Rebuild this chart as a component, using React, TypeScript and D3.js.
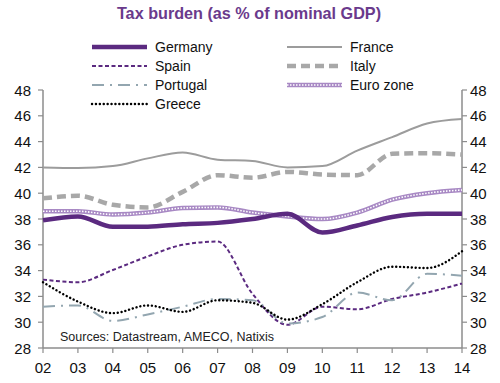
import React from "react";
import * as d3 from "d3";

const years = ["02","03","04","05","06","07","08","09","10","11","12","13","14"];
const germany = [37.9,38.2,37.4,37.4,37.6,37.7,38.0,38.4,36.95,37.5,38.15,38.4,38.4];
const france = [42.0,41.95,42.1,42.7,43.15,42.6,42.5,42.0,42.1,43.3,44.35,45.4,45.75];
const spain = [33.3,33.1,34.05,35.1,36.0,36.25,32.2,29.8,31.2,31.0,31.8,32.3,33.0];
const italy = [39.6,39.8,39.1,38.9,40.1,41.4,41.2,41.65,41.45,41.4,43.05,43.1,43.0];
const portugal = [31.2,31.3,30.1,30.6,31.2,31.8,31.7,29.9,30.4,32.3,31.7,33.75,33.6];
const euroZone = [38.6,38.6,38.35,38.5,38.85,38.9,38.5,38.2,38.0,38.5,39.5,40.0,40.25];
const greece = [33.1,31.6,30.7,31.3,30.8,31.7,31.5,30.2,31.4,33.1,34.3,34.2,35.5];
const yTicks = [28,30,32,34,36,38,40,42,44,46,48];

type S = { name: string; values: number[]; layers: { stroke: string; width: number; dash?: string; cap?: string }[] };

const series: S[] = [
  { name: "Germany", values: germany, layers: [{ stroke: "#5b2a80", width: 4.5 }] },
  { name: "France", values: france, layers: [{ stroke: "#9c9c9c", width: 2 }] },
  { name: "Spain", values: spain, layers: [{ stroke: "#5b2a80", width: 2, dash: "4 2.5" }] },
  { name: "Italy", values: italy, layers: [{ stroke: "#a8a8a8", width: 4.5, dash: "9 5" }] },
  { name: "Portugal", values: portugal, layers: [{ stroke: "#93a6b0", width: 2, dash: "12 6 2 6" }] },
  { name: "Euro zone", values: euroZone, layers: [{ stroke: "#a889c4", width: 4.5 }, { stroke: "#ffffff", width: 1.6, dash: "1.5 1.5" }] },
  { name: "Greece", values: greece, layers: [{ stroke: "#000000", width: 2.4, dash: "0.1 3.8", cap: "round" }] },
];

const drawOrder = ["France", "Italy", "Euro zone", "Germany", "Spain", "Portugal", "Greece"];

export default function App() {
  const W = 500, H = 383;
  const x = d3.scalePoint<string>().domain(years).range([43, 462]);
  const y = d3.scaleLinear().domain([28, 48]).range([348, 90]);
  const line = d3.line<number>().x((_, i) => x(years[i])!).y((d) => y(d)).curve(d3.curveMonotoneX);
  const axisColor = "#8c8c8c";
  const font = "Arial, 'Liberation Sans', sans-serif";

  const legendPos: Record<string, [number, number]> = {
    Germany: [92, 47], France: [287, 47],
    Spain: [92, 66], Italy: [287, 66],
    Portugal: [92, 85], "Euro zone": [287, 85],
    Greece: [92, 104],
  };

  return (
    <svg width={W} height={H} style={{ position: "absolute", left: 0, top: 0, background: "#fff" }} fontFamily={font}>
      <text x={249} y={19} textAnchor="middle" fontSize={16.2} fontWeight="bold" fill="#6a3a8c">Tax burden (as % of nominal GDP)</text>

      <line x1={43} x2={43} y1={90} y2={348} stroke={axisColor} strokeWidth={1.5} />
      <line x1={462} x2={462} y1={90} y2={348} stroke={axisColor} strokeWidth={1.5} />
      <line x1={43} x2={462} y1={348} y2={348} stroke={axisColor} strokeWidth={1.5} />
      {yTicks.map((t) => (
        <g key={t}>
          <line x1={38} x2={43} y1={y(t)} y2={y(t)} stroke={axisColor} strokeWidth={1.2} />
          <line x1={462} x2={467} y1={y(t)} y2={y(t)} stroke={axisColor} strokeWidth={1.2} />
          <text x={31} y={y(t) + 5.5} textAnchor="end" fontSize={15} fill="#111">{t}</text>
          <text x={470} y={y(t) + 5.5} textAnchor="start" fontSize={15} fill="#111">{t}</text>
        </g>
      ))}
      {years.map((yr) => (
        <g key={yr}>
          <line x1={x(yr)} x2={x(yr)} y1={348} y2={353} stroke={axisColor} strokeWidth={1.2} />
          <text x={x(yr)} y={373} textAnchor="middle" fontSize={15} fill="#111">{yr}</text>
        </g>
      ))}

      <text x={60} y={341} fontSize={12.5} fill="#222">Sources: Datastream, AMECO, Natixis</text>

      {drawOrder.map((n) => {
        const s = series.find((q) => q.name === n)!;
        return s.layers.map((l, i) => (
          <path key={n + i} d={line(s.values)!} fill="none" stroke={l.stroke} strokeWidth={l.width}
            strokeDasharray={l.dash} strokeLinecap={(l.cap as any) || "butt"} strokeLinejoin="round" />
        ));
      })}

      {series.map((s) => {
        const [lx, ly] = legendPos[s.name];
        return (
          <g key={s.name}>
            {s.layers.map((l, i) => (
              <line key={i} x1={lx} x2={lx + 55} y1={ly} y2={ly} stroke={l.stroke} strokeWidth={l.width}
                strokeDasharray={l.dash} strokeLinecap={(l.cap as any) || "butt"} />
            ))}
            <text x={lx + 63} y={ly + 5} fontSize={14} fill="#111">{s.name}</text>
          </g>
        );
      })}
    </svg>
  );
}
